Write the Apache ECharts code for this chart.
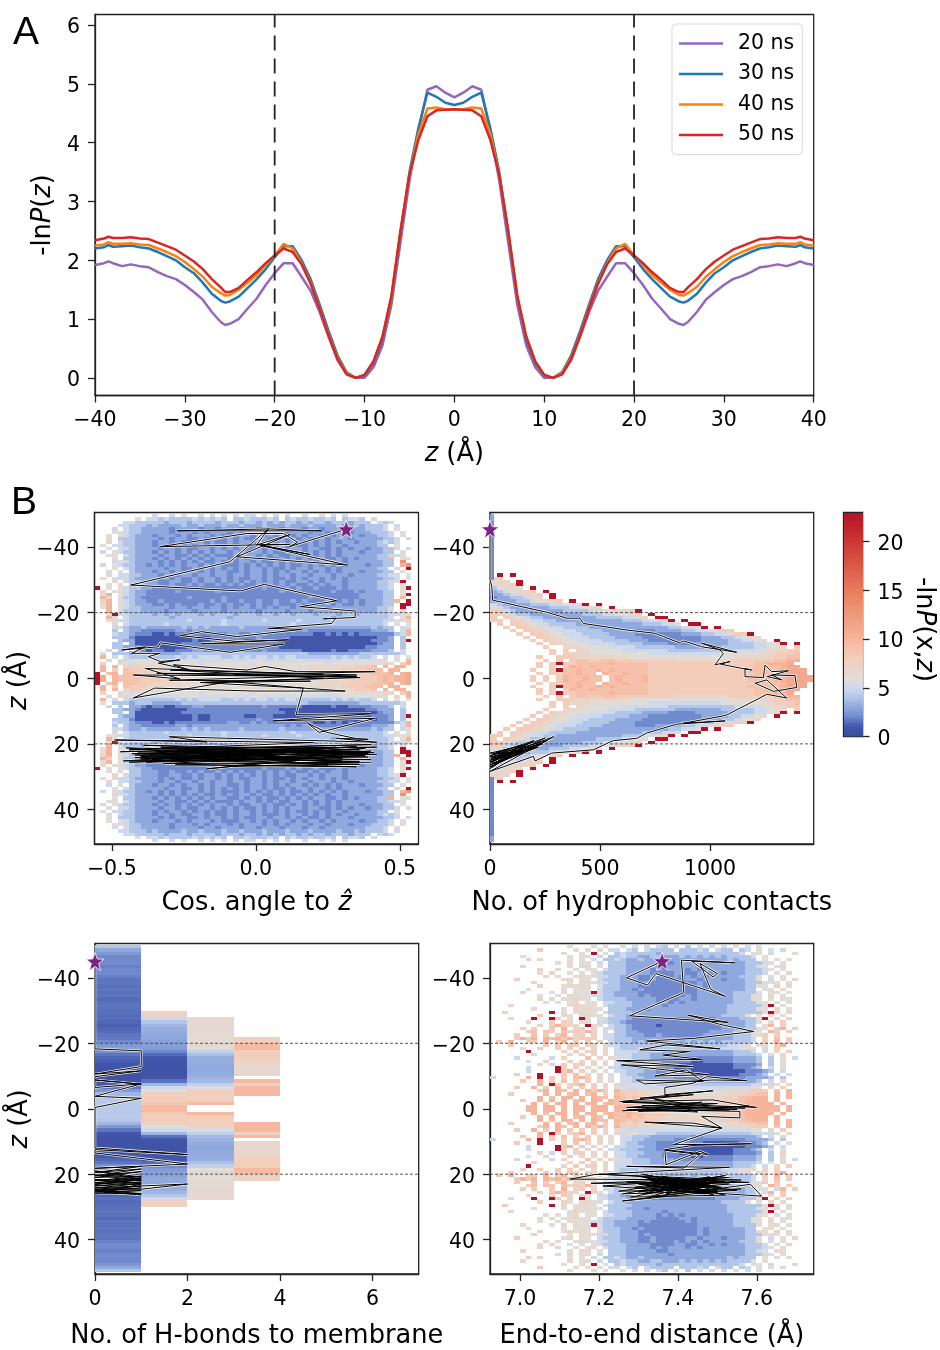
<!DOCTYPE html>
<html><head><meta charset="utf-8">
<script src="https://cdn.jsdelivr.net/npm/echarts@6/dist/echarts.min.js"></script>
<style>html,body{margin:0;padding:0;background:#fff}#c{width:940px;height:1350px;filter:blur(0.4px)}</style>
</head><body><div id="c"></div>
<script>
// ---------- Panel A values (left half; the published curve is symmetric in z)
const zHalf=[-40,-39,-38.5,-38,-37,-36,-35,-34,-33,-32,-31,-30,-29,-28,-27,-26,-25.5,-25,-24,-23,-22,-21,-20,-19,-18,-17,-16,-15,-14,-13,-12,-11,-10,-9,-8,-7,-6,-5,-4,-3,-2,-1,0];
const ns20=[1.92,1.95,1.98,1.95,1.90,1.93,1.90,1.88,1.80,1.73,1.68,1.58,1.46,1.33,1.12,0.95,0.90,0.92,1.00,1.18,1.35,1.58,1.78,1.95,1.95,1.72,1.48,1.12,0.70,0.30,0.07,0,0,0.18,0.55,1.25,2.3,3.35,4.2,4.9,4.96,4.85,4.77];
const ns30=[2.20,2.22,2.26,2.23,2.24,2.25,2.22,2.20,2.14,2.07,2.00,1.88,1.78,1.62,1.43,1.31,1.28,1.30,1.38,1.53,1.68,1.85,2.05,2.24,2.24,2.00,1.68,1.25,0.80,0.38,0.10,0,0.04,0.25,0.65,1.35,2.45,3.5,4.25,4.85,4.78,4.68,4.64];
const ns40=[2.25,2.27,2.31,2.28,2.28,2.29,2.27,2.26,2.20,2.14,2.07,1.97,1.85,1.72,1.55,1.44,1.40,1.41,1.50,1.62,1.75,1.92,2.08,2.28,2.20,1.95,1.62,1.20,0.74,0.34,0.08,0,0.05,0.28,0.70,1.38,2.5,3.45,4.15,4.58,4.60,4.57,4.56];
const ns50=[2.34,2.37,2.40,2.38,2.38,2.39,2.37,2.36,2.30,2.24,2.18,2.08,1.98,1.85,1.68,1.54,1.46,1.46,1.53,1.67,1.80,1.95,2.08,2.20,2.14,1.93,1.60,1.18,0.72,0.32,0.06,0,0.05,0.28,0.70,1.40,2.5,3.45,4.05,4.45,4.55,4.56,4.57];
const seriesNames=['20 ns','30 ns','40 ns','50 ns'];
const seriesColors=['#9467bd','#1f77b4','#ff7f0e','#d62728'];

// ---------- Heat-map rows: each char is -lnP in base 36, '.' = empty. 1 A bins, z=-50 upward to 0
const cosRows=[
"..........5..5.6..5.5.6.5.55.6.5.5..5..6.5.5...........",
".......6.55454444545454.44544454.454454454.4554.5......",
".....5544444344434444344434434343443434434443444.545...",
"....55444343333433433343343334333433343333433434445.5..",
"...5.5443333323333233233323323332333233233333334445.6..",
"...6654433333233323233323233323232333233233323334445.6.",
"..6.654333233323233323222332323233232332323333233445.6.",
"..6.4443333232332232332323223323323232232333233333445.5",
"..7.5443332332322332322323323222323323232323323334545..",
".6.554433323233232323223233232323232232323323333344.6..",
"..6.5543333233232233232323223232323323322323233233445.5",
".5.6544333232323232323323223323223232323232333233344.6.",
"..66.5433332332232323222323323232233232323233333344556.",
"...6.4433323232323232332232323223232323322323233344a.66",
"...5654333323232323223232332322323232323233233333344.d.",
".5.6544332323232332323222323232323223232323233323344.ad",
"...6.5433333233223232323232332322323323323233333344.5.n",
"..5.6.4333233232332323322323323232332323232333233344.6.",
"..7.5544333233233233233233233232332332333233233334455.6",
".6.55543333232322323323232233232232323323232333333445.6",
"...7.544333223322323323232323232322332323332333334456n.",
"..6.7.4433322322323223232322323232322323233233333445.6.",
"n.6.654433222222222222222222232223232232223233333445.6n",
".7.6654332222232222223222222222232222222232223233344.6.",
".6a.654332222222222222222222222222222222222222333344.6n",
".a7.644322222222322222322222222222222322222222333344.a.",
".7a.654332232222222232322322322322323222322323233344a.n",
".6a.654333223232223223232232322322232322323223233344.nn",
".6a.654433333233233233232332323233233233233333333445.n.",
"..a.644433332333323333233333233332333233333333333445.6.",
"..6n554444343434443434443444344344344434443443444445566",
"..a6.54444444344444444434444444444444444434444444445.6a",
"..66554444444444544444544444454444454444444444444455667",
"...7.5444444544444444454444444444454444444444444445.6.6",
"...5543343333334343433333433333343333333333333334344.56",
"...4.43322222233233333333333333332323222222222223334.5a",
"...544322211212222222223322323222222221121212122222245a",
"...4442111111111121122222222322222111111111111111223.4.",
"....433111111111121122222211222111111111111111112223.4n",
"...44.3111111112222222222222222221111111111111111233.4.",
"...4433211111111222222222222222211111111111111122333.4.",
"..5.4.3321221122233222222222232222221111121122223334.5.",
".6.444344433333444444444444444444444433333333344444445.",
".a.5.54444444454545555445454554545544444454545445.5.6.6",
"..7.75666655555666555556555665555556555555566666676.7.a",
".7..765666666666665666666665666666666666566666666677.8a",
".a.a.78877776767777776676677767776676777777778889.a.aa",
".a.8.988877777766767666667666766667667777778888999.aa",
"n.9a.9988877777677676666666666766667666777778888999a.ab",
"nb.a9999888877777776666666666776666766677777888889a9aab"];
const contactRows=[
".n.n",
"78.",
"777.n",
"6778n",
"46776.n",
"3457778.n",
"33455778.n",
"23344567.n",
"33334456678.n",
"54333344455667n.n",
"75433333344455677.n",
"8854333333344445566778n",
"88754433333333444556678.n",
"8.8765443333333344445567.nn",
"88.876554433333333334445567n.n",
".8.88765544443333333333444556.nn",
"..8.8877655444433333333333344556n.n",
"...8.88776555444433333222333344556788.",
"....8.887665554444333322222223334455788n",
".....8.8876655544443333222222222333445667.",
"......8.8776655554444333222222223333445567.n",
".......8.87766655554444333322223333344445567n.n",
"........8..7776666555544444433333334444455667.8",
".........8.8.7766666555555544444444445555667788",
".........8.877766666666655555555555666666778889",
".......8..8887777777766666666666666667777778899",
"........8.8.899889988888888877777777888888899aa",
".......8.8n8899999a99999888888888888888899aaab",
".......8.8.8a99a9999999988888888888888889999abb",
"......8..8n99a99a9a9999988888888888888899999abbb",
".......8.8899a99.a99a99988888888888888889999abbb",
"......8.8.8a99a99.9a999a8888888888888889999aabbbb"];
const contactStrip=[3,2,2,2,2,2,2,2,2,2];
const endRows=[
"................7...7.6..6.5.5.54.5.4.5.5.5.6.5.6......",
"...........8.....6.6.6.55.54.54444.44454.544.45.6.6.5..",
"...............6..6.n.6.4544444344444444444445.66.5...7",
"........6.......7.66.5.4454433443334343434344446.6.....",
".8.......8.7....6.6.5.44543343333333333333343444.6.6.6.",
"..............6.7.66.5.4443333333233333333333344456.6..",
"........7.......6.77.6.444333332233333333333334456.67..",
"...........7..7..6.66.54443333232333232333333344456.6.",
"...........6.7..6.6.654444333322223322332323334445.6.7.",
"............7.6..67665544333223222323232333334446.6.6.",
".......8.......67.66.5444333223222223323332333446.5.6.7",
"..........7.....6.7665544333232222222232333333444666.6.",
"...........7...67676.64443332222222222323333334466.8.7.",
".........6.....6.666.544433232222222223233333344.66.6.",
"........7....6.7.666n5443333222222222233333344446.67.6.",
"...........6..6.766655443333232222223233333344466.7.6.",
"...........7.7.66766.5444433333222233233333344466.6.66",
"............6.6.67.66.5544433332323233333333444466.6.6.",
"......7.........67666.5444433333233333333334444446n.6.",
"..........6....6.76766.444333233333333333334444466.7.6.",
".....8.......n.7.6766.5444433333333333333334444446n7.7",
"...........8...76.7766.544333333333333333344446.6.7.6.",
"......7...n..n8.7.n6.6544432222222222222233334446n.7.8",
".........7...8.87.76.5544322222222222222223333446.6.8.",
"...........7.8a877.n76.5443222212222222222333344.6a.8.",
"........8.8..8.a.78.7.5544322222222222222233334466.5a.8",
".........89.98.9787a7.5.4433222222222222333344466.a8.8",
".......8..9.8.8a.78.8.5544333223222222233333444668.8.",
".a.....8a8a.a9a8a7887.55444333333333333333334445.7.9.8",
"....8.a..88.a.8a.8.8.7.5444343433333434343444445.8.a.8",
"......8.....8.8.88.77.7554444444444444444445567.66.8a.",
"........7..8..8.8.7.7.7.544454444444444444555667.7.8.",
".........n.....7.8.78.7.555544443333333333334445.5.7.8",
"..........7.....7.8.7.7.5554443333333333333344445.6.7.",
".......5.....5.7...9.7.76554443333222222222233334.4.6.5",
".........6..7...8.7.7.6.5544333322222112222233334.4.6.",
"...........7.5.8.78.7.7.5544433322211111111122223.4.7.",
".........5....n8.8.7.6.55444333222111111111122234.5.6.",
".........5....n8a.8.7.6.554443322222211111111122234.5.",
".......8...n...8.9.7.7.6.5443332222222211111122234.5.6",
"...5.....a.n.8.8.9a8.7.6.55443333322222222222233334.4.",
"........8..a.8.9.8.8.7.6.554443333333223333333334.5.7.",
"...........a.n8.78a.8.7.7566555444444444444444455556.7",
".......8..a.8.a.8.8.8.7.6655555555555555555555566.7.8.",
"...........8a.a9.a.a8a8.a7887777666666666677777888.9.a",
"......8.....a.a.9a.9a.8.98787776666666666667778899.a.a",
"...........a.9.aa.a.a99.a9898888777777777788899aaa.a.a",
"........8..a.a.a.9a.a9.a99a8988877777777778889aaaa.a.",
"..........a.9.aa.a.aa.9a99a9988887766667778889aaaaa.a",
".........aa.aa.a.aa.aaa.aaaa999888777677778889aaaaaa.a"];
// H-bond columns, 1 A bins z=-50..-1
const hb0=[4,3,2.5,2,2,2,1.8,2,2,1.8,1.6,1.6,1.5,1.6,1.5,1.6,1.4,1.5,1.6,1.5,1.5,1.4,1.5,1.3,1.2,1.3,1.4,1.6,1.7,2,2.5,2.8,2.2,1.6,1.3,1.1,0.9,0.8,0.7,0.6,0.6,0.7,1,1.6,2.5,3.5,4,4.2,4.2,4.2];
const hb1=[null,null,null,null,null,null,null,null,null,null,null,null,null,null,null,null,null,null,null,null,7.5,7.5,5,4,3.5,3.2,3.2,3,3,2.8,2.7,2.6,2,1.4,1,0.9,0.8,0.7,0.7,0.7,1,1.5,3.5,5,6,7.5,8,8,8.5,9.5];
const hb2=[null,null,null,null,null,null,null,null,null,null,null,null,null,null,null,null,null,null,null,null,null,null,6.5,6.5,6.5,6.5,6.3,6.5,6.3,6.3,6.5,6,4.5,3.8,3.2,3.2,3.1,3,3,3.2,3.3,3.6,4.5,5.5,7.5,8,7.5,8,9.5,null];
const hb3=[null,null,null,null,null,null,null,null,null,null,null,null,null,null,null,null,null,null,null,null,null,null,null,null,null,null,null,null,7.5,7.8,9.5,9.5,7.8,8,7.8,7.5,6.8,6.6,6.6,7,null,9.5,7.5,9.7,9.7,9.7,null,null,null,null];

// ---------- Trajectories [x, z]
const cosPath=[[.314,-45.4],[.117,-40.1],[.145,-41.4],[.096,-44.1],[-.031,-44.1],[-.332,-40.1],[.119,-40.8],[.015,-40.6],[.189,-37.7],[.021,-40.4],[.316,-34.5],[-.066,-37],[.119,-43.8],[.003,-40.6],[.044,-45.5],[-.272,-44.9],[.229,-44.9],[.044,-45.5],[-.089,-35.5],[-.434,-28.4],[-.054,-26.6],[.03,-28.6],[.281,-23.6],[.154,-21.8],[.345,-20.5],[.345,-18.5],[.235,-18.1],[.278,-18.3],[.264,-16.7],[.044,-15.2],[.16,-14.9],[-.066,-12.7],[-.188,-14.2],[-.263,-13],[-.066,-11.2],[.113,-11.7],[-.188,-10.5],[.096,-10.4],[-.089,-7.9],[-.332,-10.8],[-.338,-9.6],[-.465,-8.6],[-.384,-9.6],[-.431,-7.6],[-.332,-7.6],[-.373,-6.6],[-.332,-5.1],[-.263,-5.6],[-.338,-4.6],[-.228,-2.5],[-.286,-4.1],[-.031,-2.5],[.032,-3.6],[.142,-2],[.414,-2],[-.078,-1],[.351,-.5],[-.425,-1],[-.263,.2],[-.384,-3],[.235,-1.2],[-.344,-1.5],[.362,-.2],[-.193,1.3],[.235,0],[-.297,-2.5],[.35,-1],[-.3,.6],[.19,.9],[-.19,1.3],[.165,3],[-.09,1],[-.425,6],[-.351,3],[-.008,3.9],[.31,3.9],[.165,3],[.14,11],[.399,10.8],[.06,13],[.415,12.2],[.22,16.5],[.18,13.7],[.247,16.5],[.35,18.4],[.39,18.6],[.28,18.3],[.42,19.5],[-.3,17.8],[-.17,19.4],[-.49,18.8],[.2,19.6],[-.44,21.8],[.4,20.2],[-.47,22.4],[.42,21],[-.38,21.4],[.38,22.4],[-.43,23],[.36,21.8],[-.39,20.4],[.42,23.2],[-.4,24.6],[.35,20.8],[-.46,25.2],[.39,24],[-.35,22.2],[.41,22.6],[-.42,24.2],[.3,25.2],[-.33,21],[.38,23.6],[-.44,25.6],[.33,22.2],[-.37,23.4],[.4,24.8],[-.3,25],[.25,21.4],[-.41,22.8],[.34,25.6],[-.2,24],[.38,21.4],[-.36,24.8],[.36,26.2],[-.1,26.8],[.15,25],[-.17,27.6],[-.08,26.8],[.12,26.4],[.35,27],[-.28,26.4],[.36,25.4],[-.4,23.8],[.3,23],[-.28,22],[.2,24.4],[-.38,25.6],[.1,22],[.3,24.4],[-.25,23],[.4,22.2],[-.15,25.4],[.28,21],[-.42,23.4],[.25,26.4],[-.45,21.2],[.39,23],[-.32,26],[.4,25.6]];
const contactPath=[[0,-45.4],[0,-30],[8,-28],[12,-23.8],[258,-20.1],[350,-18.3],[409,-18.3],[424,-16.7],[621,-14.7],[750,-13.7],[788,-12.7],[864,-10.7],[879,-11.4],[962,-9.6],[1121,-7.9],[962,-10.7],[1045,-8.6],[1060,-7.5],[1053,-6.9],[1023,-4.1],[1091,-5.1],[1048,-4.3],[1144,-3],[1189,-2.5],[1159,-3],[1159,-.5],[1242,-.2],[1250,-4],[1280,-2],[1356,-2.3],[1260,-.5],[1326,.5],[1280,-1],[1386,-.8],[1394,2.8],[1288,4],[1205,1.5],[1258,.5],[1348,6],[1258,4.9],[1076,11.2],[1050,11.6],[879,13.7],[1068,13],[848,14],[712,16.7],[667,18.3],[561,19],[540,19.6],[470,21.8],[280,22.8],[205,25.2],[197,23.8],[0,28.4],[290,17.8],[0,25],[230,19.8],[0,26.5],[250,18.2],[10,24],[180,21.5],[0,27],[260,19],[0,23.6],[140,20.5],[20,26],[220,21],[5,24.5],[150,22],[0,25.5],[200,19],[15,23],[120,22.5],[0,27.5],[170,20],[30,22.5],[100,24.2],[0,24],[240,20],[10,26],[130,23],[0,22.8],[85,21.5],[0,26],[110,22],[20,25]];
const hbPath=[[0,-45],[0,-18.3],[1,-17.7],[1,-12.9],[0,-10.6],[1,-11.6],[0,-9.8],[0,-8.8],[1,-7.5],[0,-8.8],[0,-6.5],[1,-7.6],[0,-3.8],[1,-3.2],[0,-.4],[0,12],[2,14],[0,12.5],[0,13.5],[2,16.9],[0,18.2],[1,17.6],[0,19.5],[1,18.4],[0,20.5],[1,19.2],[0,21],[1,20.6],[0,22],[1,21.2],[0,22.6],[1,21.8],[0,23],[1,22.4],[0,23.6],[1,22.9],[0,24.2],[2,23],[1,24.6],[0,24.6],[1,23.6],[0,25],[1,24.2],[0,25.4],[1,25],[0,25.8],[1,25.9],[0,24.9],[1,26.3],[.2,25.6],[1,23],[0,21.6],[1,22],[0,20.2],[1,20.9],[0,19],[1,21.5],[0,23.2]];
const endPath=[[7.36,-45.1],[7.27,-40],[7.323,-37.8],[7.344,-41.3],[7.519,-34.4],[7.483,-36.5],[7.456,-44.4],[7.5,-41.3],[7.489,-40.3],[7.435,-45.1],[7.544,-44.6],[7.409,-45.4],[7.415,-35.5],[7.278,-28.4],[7.527,-26.4],[7.426,-28.6],[7.506,-25.8],[7.592,-23.6],[7.439,-21.5],[7.321,-20.7],[7.506,-18.3],[7.371,-19.5],[7.304,-18],[7.43,-17.5],[7.363,-16.4],[7.46,-15.1],[7.245,-14.7],[7.439,-12.9],[7.257,-13.4],[7.477,-10.4],[7.342,-10],[7.422,-11.9],[7.464,-8.3],[7.295,-8.8],[7.316,-7.6],[7.489,-8.8],[7.574,-8.6],[7.473,-9.8],[7.439,-7.8],[7.367,-6.5],[7.367,-4.3],[7.489,-5.5],[7.304,-3.2],[7.439,-4.3],[7.253,-2.2],[7.489,-2.7],[7.599,-.4],[7.26,-2],[7.5,-1.6],[7.27,.4],[7.58,-.8],[7.26,.6],[7.55,.2],[7.31,-1],[7.57,-.2],[7.27,-.4],[7.46,-2],[7.3,.8],[7.53,.4],[7.34,-3],[7.45,1],[7.29,.2],[7.557,.8],[7.557,2.8],[7.46,2.3],[7.511,5.9],[7.316,4.1],[7.439,4.4],[7.511,5.9],[7.388,11],[7.586,10.7],[7.439,11.2],[7.367,12.5],[7.477,14],[7.456,13],[7.37,17.1],[7.367,12.7],[7.456,14],[7.415,18.1],[7.27,17.6],[7.53,17.9],[7.19,20.1],[7.127,21.5],[7.56,21.8],[7.2,20],[7.58,22.5],[7.18,22.8],[7.53,21],[7.21,23.6],[7.612,26.7],[7.584,23.1],[7.26,28.2],[7.56,24.5],[7.25,25.2],[7.52,20.4],[7.26,26],[7.55,25],[7.3,20.6],[7.52,26.4],[7.28,27],[7.5,22],[7.3,25.4],[7.53,23],[7.27,22.4],[7.5,25.6],[7.32,21],[7.51,24],[7.29,24],[7.48,20.8],[7.31,26],[7.52,22.2],[7.3,23],[7.49,26.2],[7.33,22],[7.5,21.4],[7.34,25],[7.47,23.4],[7.31,20],[7.5,24.6],[7.33,26.8],[7.48,21.8],[7.32,23.6],[7.5,25],[7.35,21.2],[7.49,22.8],[7.33,24.4],[7.47,26],[7.34,22.8],[7.5,23.8],[7.36,20.6],[7.46,24.8],[7.33,21.8],[7.48,25.4],[7.36,23],[7.49,21],[7.35,25.4],[7.45,22.4],[7.37,24],[7.47,23],[7.36,22],[7.45,25],[7.38,21.4],[7.46,24],[7.37,26],[7.43,22.6],[7.39,24.6],[7.44,21.6]];
const startPoints=[[.314,-45.4],[0,-45.4],[0,-45],[7.36,-45.1]];

// ---------- Axis ticks
const zTicks=[-40,-20,0,20,40];
const aXTicks=[-40,-30,-20,-10,0,10,20,30,40];
const aYTicks=[0,1,2,3,4,5,6];
const cosTicks=[-0.5,0,0.5];
const contactTicks=[0,500,1000];
const hbTicks=[0,2,4,6];
const endTicks=[7,7.2,7.4,7.6];
const cbarTicks=[0,5,10,15,20];
const membrane=[-20,20];

const stops=[[0,58,76,155],[1,66,86,172],[2,112,138,205],[3,143,168,221],[4,178,198,233],[5,207,217,236],[6,225,220,216],[8,243,205,186],[10,247,180,155],[15,232,124,92],[20,205,55,50],[23,178,18,40]];
function cmap(v){
  for(let i=1;i<stops.length;i++){ if(v<=stops[i][0]){const a=stops[i-1],b=stops[i],t=(v-a[0])/(b[0]-a[0]);
    return 'rgb('+[1,2,3].map(k=>Math.round(a[k]+(b[k]-a[k])*t)).join(',')+')';}}
  return 'rgb(178,18,40)';
}
function cellsFromRows(rows,x0,dx,dz,zStart){
  const out=[];
  rows.forEach((r,i)=>{const zA=zStart+i*dz,zB=zA+dz;
    for(let c=0;c<r.length;c++){ if(r[c]==='.')continue; const v=parseInt(r[c],36);
      out.push([x0+c*dx,zA,x0+(c+1)*dx,zB,v]); out.push([x0+c*dx,-zB,x0+(c+1)*dx,-zA,v]); }});
  return out;
}
function cellsFromColumns(cols){
  const out=[];
  cols.forEach((col,c)=>col.forEach((v,i)=>{ if(v===null)return; const zA=-50+i,zB=zA+1;
    out.push([c,zA,c+1,zB,v]); out.push([c,-zB,c+1,-zA,v]); }));
  return out;
}
function stripCells(vals,w){
  const out=[]; vals.forEach((v,i)=>{const zA=-50+i*2,zB=zA+2; out.push([0,zA,w,zB,v]); out.push([0,-zB,w,-zA,v]);}); return out;
}
function renderCell(params,api){
  const a=api.coord([api.value(0),api.value(1)]),b=api.coord([api.value(2),api.value(3)]);
  const x=Math.round(Math.min(a[0],b[0])),y=Math.round(Math.min(a[1],b[1]));
  const w=Math.round(Math.max(a[0],b[0]))-x,h=Math.round(Math.max(a[1],b[1]))-y;
  return {type:'rect',shape:{x,y,width:w,height:h},style:{fill:cmap(api.value(4))}};
}
function heat(g,data){return {type:'custom',xAxisIndex:g,yAxisIndex:g,renderItem:renderCell,data,encode:{x:[0,2],y:[1,3]},z:1,silent:true,clip:true,animation:false,progressive:0};}
function line(g,data,color,width,z,dash){return {type:'line',xAxisIndex:g,yAxisIndex:g,data,symbol:'none',showSymbol:false,z,silent:true,animation:false,progressive:0,lineStyle:{color,width,type:dash||'solid',cap:'butt'}};}
function path(g,data){return [line(g,data,'#ffffff',2.4,3),line(g,data,'#000000',1,4)];}
function dashes(g,a,b){return membrane.map(m=>line(g,[[a,m],[b,m]],'#444444',0.9,2,[3,2]));}
const STAR='path://M12 0L15 8.6L24 9L16.8 14.6L19.4 24L12 18.7L4.6 24L7.2 14.6L0 9L9 8.6Z';
function star(g,p){return {type:'scatter',xAxisIndex:g,yAxisIndex:g,data:[p],symbol:STAR,symbolSize:18,z:6,silent:true,clip:false,animation:false,itemStyle:{color:'#7b2481',borderColor:'#ffffff',borderWidth:0.8,opacity:1}};}

const FONT='DejaVu Sans';
const NS=25.7;
const rich={i:{fontStyle:'italic',fontSize:NS,fontFamily:FONT,color:'#000'},n:{fontSize:NS,fontFamily:FONT,color:'#000'}};
const grids=[
 {left:95,top:14.5,width:718.7,height:381},
 {left:94.5,top:512.5,width:324,height:331.5},
 {left:490,top:512.5,width:323.7,height:331.5},
 {left:95,top:943.5,width:323.7,height:331},
 {left:490,top:943.5,width:323.7,height:331},
 {left:843.5,top:512.5,width:19,height:224}
].map(g=>Object.assign(g,{show:true,borderColor:'#222',borderWidth:1.3,backgroundColor:'#fff',containLabel:false}));
const fmtInt=v=>String(v).replace('-','\u2212');
const fmt1=v=>Number(v).toFixed(1).replace('-','\u2212');
function axis(g,min,max,ticks,fmt,pos,name,gap,extra,namePad){
  const vertical=pos==='left'||pos==='right';
  return Object.assign({type:'value',gridIndex:g,min,max,position:pos,splitLine:{show:false},
    axisLine:{show:true,onZero:false,lineStyle:{color:'#222',width:1.3}},
    axisTick:{show:true,length:7,inside:false,lineStyle:{color:'#222',width:1.3},customValues:ticks},
    axisLabel:Object.assign({show:true,fontFamily:FONT,fontSize:20.5,color:'#000',margin:15,formatter:fmt,customValues:ticks,hideOverlap:false},vertical?{verticalAlign:'top',lineHeight:6}:{}),
    name:name||'',nameLocation:'middle',nameGap:gap||0,nameTextStyle:{fontFamily:FONT,fontSize:NS,color:'#000',rich,padding:namePad||0}},extra||{});
}
const zAxis=(g,name,pad)=>axis(g,-50.5,50.5,zTicks,fmtInt,'left',name,name?62:0,{inverse:true},pad);
const xAxis=[
 axis(0,-40,40,aXTicks,fmtInt,'bottom','{i|z}{n| (Å)}',46),
 axis(1,-0.56,0.565,cosTicks,fmt1,'bottom','{n|Cos. angle to }{i|ẑ}',46),
 axis(2,0,1471,contactTicks,fmtInt,'bottom','{n|No. of hydrophobic contacts}',46),
 axis(3,0,7,hbTicks,fmtInt,'bottom','{n|No. of H-bonds to membrane}',49),
 axis(4,6.924,7.744,endTicks,fmt1,'bottom','{n|End-to-end distance (Å)}',49),
 {type:'value',gridIndex:5,min:0,max:1,show:false}
];
const yAxis=[
 axis(0,-0.3,6.18,aYTicks,fmtInt,'left','{n|-ln}{i|P}{n|(}{i|z}{n|)}',38,null,[0,20,0,0]),
 zAxis(1,'{i|z}{n| (Å)}',[0,4,0,0]),
 zAxis(2),
 zAxis(3,'{i|z}{n| (Å)}',[0,20,0,0]),
 zAxis(4),
 axis(5,0,23,cbarTicks,fmtInt,'right','{n|-ln}{i|P}{n|(}{n|x,}{i|z}{n|)}',48,{nameRotate:-90},[0,0,0,10])
];
const cbarCells=[]; for(let v=0;v<23;v+=0.25) cbarCells.push([0,v,1,v+0.25,v+0.125]);
const full=(arr)=>{const L=zHalf.map((z,i)=>[z,arr[i]]);const R=zHalf.slice(0,-1).reverse().map((z,i)=>[-z,arr[zHalf.length-2-i]]);return L.concat(R);};
const curves=[ns20,ns30,ns40,ns50].map((a,i)=>({type:'line',name:seriesNames[i],xAxisIndex:0,yAxisIndex:0,data:full(a),symbol:'none',showSymbol:false,z:3,animation:false,silent:true,lineStyle:{color:seriesColors[i],width:2.5},itemStyle:{color:seriesColors[i]}}));
const series=[].concat(
 curves,
 [-20,20].map(x=>line(0,[[x,-0.3],[x,6.18]],'#222222',1.8,5,[15,8])),
 heat(1,cellsFromRows(cosRows,-0.56,0.02,1,-50)),dashes(1,-0.56,0.565),path(1,cosPath),star(1,startPoints[0]),
 heat(2,cellsFromRows(contactRows,0,30,1,-32)),heat(2,stripCells(contactStrip,16)),dashes(2,0,1471),path(2,contactPath),star(2,startPoints[1]),
 heat(3,cellsFromColumns([hb0,hb1,hb2,hb3])),dashes(3,0,7),path(3,hbPath),star(3,startPoints[2]),
 heat(4,cellsFromRows(endRows,6.879,0.015,1,-50)),dashes(4,6.924,7.744),path(4,endPath),star(4,startPoints[3]),
 heat(5,cbarCells)
);
const chart=echarts.init(document.getElementById('c'),null,{renderer:'canvas',width:940,height:1350});
chart.setOption({
 animation:false,backgroundColor:'#fff',
 grid:grids,xAxis,yAxis,series,
 tooltip:{show:false},
 legend:{data:seriesNames,icon:'rect',symbolKeepAspect:false,orient:'vertical',left:672,top:24,padding:[9,8,9,7],itemWidth:44,itemHeight:2.5,itemGap:9.5,
   backgroundColor:'#fff',borderColor:'#d9d9d9',borderWidth:1,borderRadius:4,selectedMode:false,z:10,
   textStyle:{fontFamily:FONT,fontSize:20.5,color:'#000',padding:[0,0,0,10]}},
 graphic:[
  {type:'text',left:13,top:14,z:20,style:{text:'A',font:'39px "Liberation Sans"',fill:'#000'}},
  {type:'text',left:11,top:484,z:20,style:{text:'B',font:'39px "Liberation Sans"',fill:'#000'}}
 ]
});
</script></body></html>
